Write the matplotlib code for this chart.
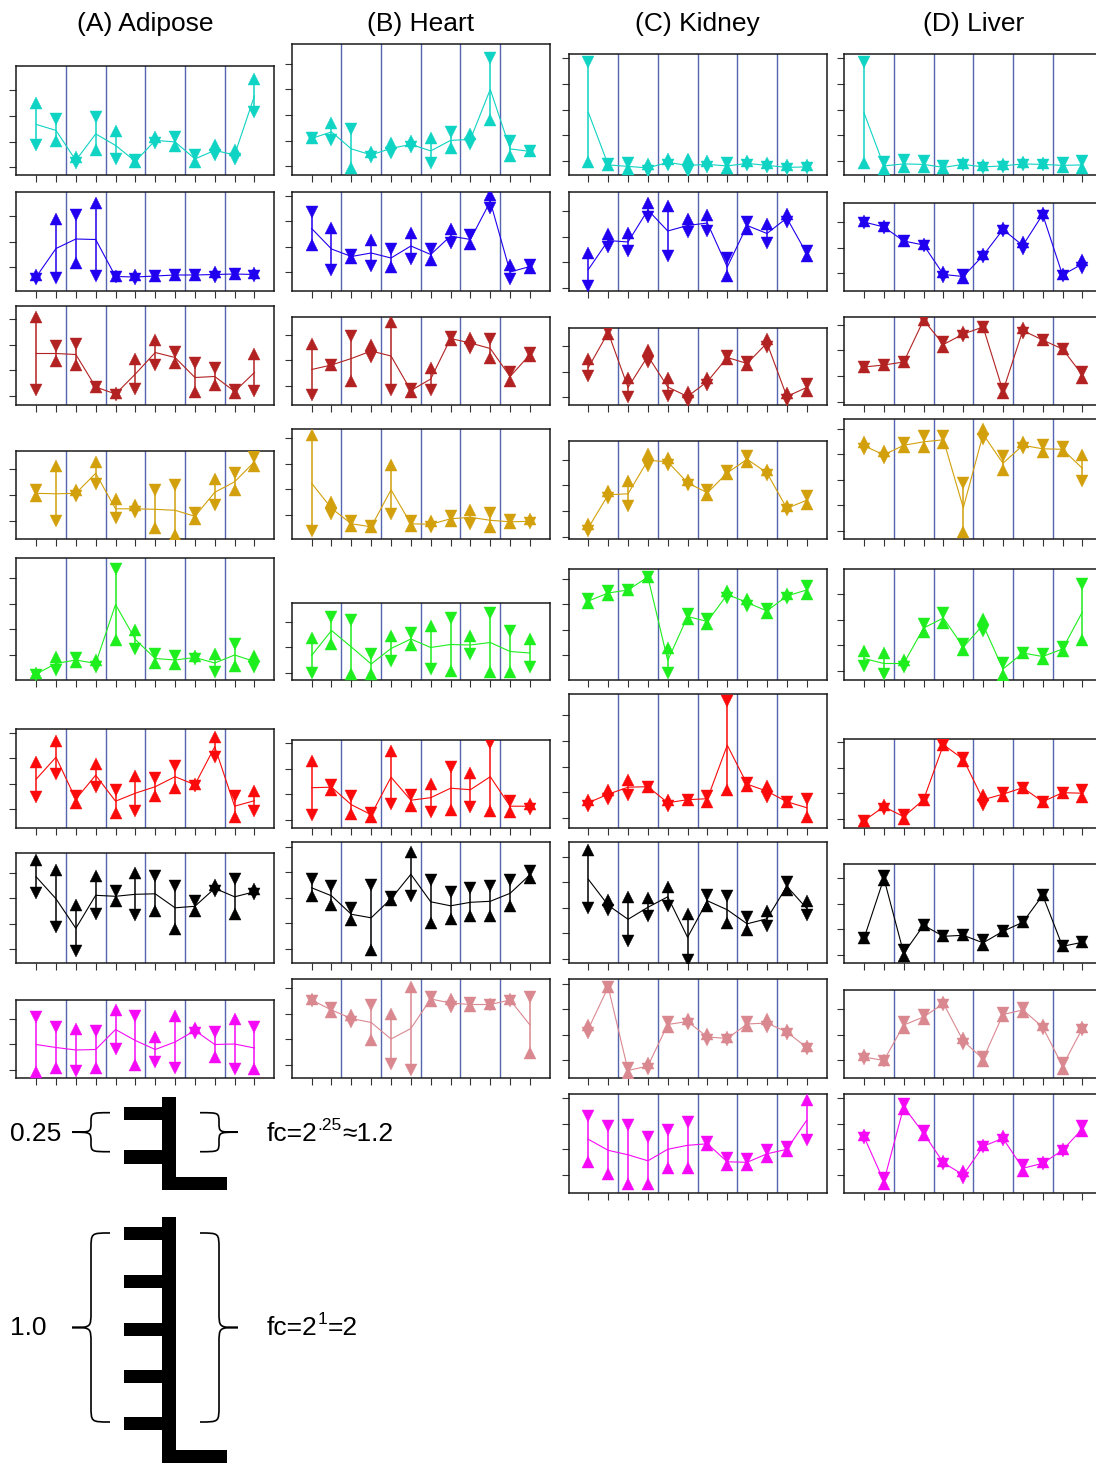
import numpy as np
import matplotlib
matplotlib.use("Agg")
import matplotlib.pyplot as plt
from matplotlib.path import Path
from matplotlib.patches import PathPatch, Rectangle

plt.rcParams['font.family'] = ['Liberation Sans', 'DejaVu Sans']

W, H = 1096, 1463
STEP = 25.6          # one quarter-log2 step on the y scale
PANEL_W = 258

TITLES = ['(A) Adipose', '(B) Heart', '(C) Kidney', '(D) Liver']
COL_LEFT = [16.3, 291.8, 568.5, 844.2]
ROW_BOTTOM = [175.4, 291, 405, 539.3, 680, 827.7, 963.3, 1078, 1193.3]

CYAN, BLUE, BRICK, GOLD = '#0fd3c3', '#2000ee', '#b22222', '#d2a00c'
GREEN, RED, BLACK = '#1eee1e', '#fa0a0a', '#000000'
PINK, MAGENTA = '#da8890', '#f50af5'
SEP = '#5565b0'

ADIPOSE_COLORS = [CYAN, BLUE, BRICK, GOLD, GREEN, RED, BLACK, MAGENTA]
HEART_COLORS = [CYAN, BLUE, BRICK, GOLD, GREEN, RED, BLACK, PINK]
KIDNEY_COLORS = [CYAN, BLUE, BRICK, GOLD, GREEN, RED, BLACK, PINK, MAGENTA]
LIVER_COLORS = [CYAN, BLUE, BRICK, GOLD, GREEN, RED, BLACK, PINK, MAGENTA]

# replicate 1 (drawn as ^) and replicate 2 (drawn as v), 12 time points each
ADIPOSE_UP = [
    [72, 34, 18, 25, 44, 13, 38, 29, 13, 30, 25, 96],
    [16, 72, 28, 88, 15, 16, 15, 16, 16, 19, 17, 18],
    [88, 44, 40, 18, 12, 46, 65, 42, 13, 20, 12, 51],
    [43, 73, 49, 77, 40, 34, 11, 4, 20, 60, 49, 73],
    [7, 23, 18, 20, 40, 50, 17, 16, 24, 26, 14, 24],
    [66, 87, 25, 64, 15, 52, 32, 40, 44, 91, 11, 37],
    [103, 93, 58, 87, 62, 90, 52, 34, 52, 78, 49, 74],
    [6, 10, 49, 10, 68, 13, 41, 62, 50, 21, 59, 9],
]
ADIPOSE_DN = [
    [30, 56, 12, 58, 16, 15, 32, 38, 20, 20, 16, 63],
    [12, 13, 76, 15, 14, 12, 15, 16, 16, 14, 17, 15],
    [15, 59, 61, 18, 10, 16, 40, 53, 42, 37, 15, 14],
    [49, 18, 43, 55, 21, 27, 49, 54, 26, 34, 66, 82],
    [5, 10, 22, 13, 111, 31, 26, 24, 21, 8, 36, 13],
    [31, 54, 32, 41, 38, 17, 50, 62, 42, 71, 32, 17],
    [70, 36, 12, 49, 72, 48, 87, 77, 62, 72, 84, 69],
    [61, 51, 7, 47, 29, 62, 16, 10, 45, 46, 9, 51],
]
ADIPOSE_YMAX = [109.3, 99.3, 99.3, 88.3, 122, 99, 110.7, 78.3]
ADIPOSE_TICK0 = [8.3, 23.7, 9, 18.7, 25, 18.3, 14, 8.3]

HEART_UP = [
    [37, 52, 7, 23, 32, 34, 37, 27, 41, 55, 19, 24],
    [46, 63, 33, 51, 24, 58, 31, 62, 47, 96, 26, 23],
    [61, 40, 24, 60, 83, 13, 37, 65, 67, 47, 24, 49],
    [104, 37, 13, 12, 74, 13, 18, 18, 29, 12, 16, 20],
    [42, 36, 6, 6, 44, 35, 54, 9, 44, 8, 8, 41],
    [67, 38, 14, 11, 77, 22, 44, 18, 55, 17, 16, 24],
    [67, 58, 43, 13, 63, 111, 40, 44, 47, 47, 57, 85],
    [79, 66, 63, 38, 64, 91, 77, 79, 72, 74, 79, 25],
]
HEART_DN = [
    [37, 35, 46, 18, 22, 28, 12, 43, 31, 117, 34, 24],
    [79, 21, 36, 25, 42, 32, 42, 48, 56, 83, 12, 26],
    [10, 40, 69, 48, 15, 16, 15, 68, 57, 66, 33, 52],
    [8, 25, 18, 13, 25, 18, 12, 23, 15, 26, 19, 16],
    [7, 63, 60, 26, 19, 47, 11, 62, 26, 67, 49, 13],
    [13, 43, 32, 15, 24, 33, 16, 61, 21, 85, 27, 19],
    [84, 77, 55, 78, 66, 67, 83, 71, 75, 77, 83, 92],
    [77, 70, 56, 73, 14, 8, 81, 71, 75, 73, 77, 81],
]
HEART_YMAX = [131.7, 99.3, 88.3, 110.3, 76.7, 87.3, 121.7, 98.7]
HEART_TICK0 = [9.3, 18.7, 19, 24.3, 7, 8, 14.3, 13.3]

KIDNEY_UP = [
    [13, 10, 6, 11, 16, 16, 14, 7, 14, 12, 10, 10],
    [38, 57, 58, 88, 85, 72, 76, 15, 62, 67, 77, 35],
    [46, 71, 27, 55, 27, 13, 27, 46, 40, 66, 12, 14],
    [15, 48, 58, 85, 81, 59, 44, 65, 77, 69, 33, 35],
    [77, 85, 90, 103, 32, 61, 56, 89, 81, 67, 86, 86],
    [28, 38, 48, 41, 28, 28, 26, 38, 42, 42, 26, 11],
    [113, 63, 66, 65, 76, 49, 57, 40, 33, 52, 73, 62],
    [53, 91, 5, 15, 51, 59, 44, 41, 52, 59, 48, 32],
    [31, 19, 9, 9, 25, 25, 48, 28, 28, 36, 42, 93],
]
KIDNEY_DN = [
    [113, 11, 12, 4, 10, 4, 8, 12, 10, 8, 6, 7],
    [5, 44, 40, 74, 35, 59, 60, 33, 69, 48, 69, 40],
    [29, 74, 8, 43, 9, 4, 20, 49, 43, 58, 5, 21],
    [8, 41, 33, 73, 74, 54, 49, 68, 83, 64, 29, 43],
    [81, 89, 90, 103, 7, 66, 61, 82, 74, 71, 82, 94],
    [22, 29, 33, 41, 22, 28, 32, 127, 45, 31, 26, 29],
    [55, 53, 22, 47, 57, 3, 68, 67, 46, 37, 81, 48],
    [45, 91, 10, 9, 56, 54, 38, 38, 56, 51, 44, 29],
    [77, 67, 68, 56, 63, 71, 51, 35, 34, 43, 46, 53],
]
KIDNEY_YMAX = [121.7, 99.3, 77.3, 98.3, 110.7, 133.3, 121.7, 98.7, 99]
KIDNEY_TICK0 = [14.7, 3.3, 7.7, 2.7, 24.7, 10, 4.3, 17.7, 18.3]

LIVER_UP = [
    [12, 6, 8, 8, 7, 12, 10, 11, 13, 12, 8, 7],
    [70, 65, 50, 47, 19, 13, 37, 63, 49, 78, 17, 31],
    [38, 40, 43, 85, 58, 73, 78, 12, 77, 65, 56, 27],
    [97, 88, 92, 92, 96, 7, 110, 69, 97, 87, 88, 84],
    [29, 27, 20, 48, 57, 30, 61, 5, 27, 21, 29, 40],
    [7, 23, 9, 28, 83, 67, 33, 32, 40, 26, 35, 31],
    [25, 83, 7, 38, 27, 28, 18, 32, 41, 68, 17, 21],
    [23, 18, 50, 59, 76, 40, 17, 62, 66, 53, 9, 51],
    [58, 9, 84, 58, 32, 22, 48, 57, 22, 31, 44, 62],
]
LIVER_DN = [
    [113, 13, 15, 14, 9, 10, 7, 8, 10, 10, 12, 14],
    [68, 63, 50, 45, 14, 16, 34, 60, 42, 75, 15, 23],
    [38, 40, 43, 85, 63, 69, 78, 16, 72, 65, 56, 33],
    [90, 81, 96, 103, 103, 56, 100, 83, 91, 94, 92, 58],
    [14, 6, 13, 56, 67, 36, 49, 17, 27, 26, 33, 96],
    [7, 19, 13, 28, 83, 70, 23, 35, 40, 26, 35, 38],
    [25, 87, 13, 38, 27, 28, 23, 32, 41, 68, 17, 21],
    [19, 17, 56, 63, 73, 34, 21, 65, 70, 49, 15, 48],
    [55, 15, 89, 62, 29, 15, 46, 53, 28, 29, 42, 67],
]
LIVER_YMAX = [121.4, 87.7, 88.3, 120.7, 110.7, 88.3, 99.3, 87.7, 99]
LIVER_TICK0 = [14.7, 17.7, 3.3, 8.3, 9, 9, 8.3, 17.7, 18.3]

COLUMNS = [
    (ADIPOSE_UP, ADIPOSE_DN, ADIPOSE_YMAX, ADIPOSE_TICK0, ADIPOSE_COLORS),
    (HEART_UP, HEART_DN, HEART_YMAX, HEART_TICK0, HEART_COLORS),
    (KIDNEY_UP, KIDNEY_DN, KIDNEY_YMAX, KIDNEY_TICK0, KIDNEY_COLORS),
    (LIVER_UP, LIVER_DN, LIVER_YMAX, LIVER_TICK0, LIVER_COLORS),
]

fig = plt.figure(figsize=(W / 100, H / 100), dpi=100)

# pixel-space layer for titles and the scale key
ov = fig.add_axes([0, 0, 1, 1])
ov.set_xlim(0, W)
ov.set_ylim(H, 0)
ov.axis('off')


def draw_panel(left, bottom, ymax, tick0, up, dn, color):
    ax = fig.add_axes([left / W, 1 - bottom / H, PANEL_W / W, ymax / H])
    x = np.arange(1, 13)
    up = np.asarray(up, float)
    dn = np.asarray(dn, float)
    for xs in np.arange(2.5, 11, 2):
        ax.axvline(xs, color=SEP, lw=1.0, zorder=1)
    ax.vlines(x, np.minimum(up, dn), np.maximum(up, dn), color=color, lw=1.1, zorder=2)
    ax.plot(x, (up + dn) / 2, color=color, lw=0.8, zorder=2)
    kw = dict(ls='none', ms=8.6, color=color, mec=color, mew=0.3, zorder=3)
    ax.plot(x, up, marker='^', **kw)
    ax.plot(x, dn, marker='v', **kw)
    ax.set_xlim(0, 13)
    ax.set_ylim(0, ymax)
    ax.set_xticks(x)
    ax.set_yticks(np.arange(tick0, ymax - 1, STEP))
    ax.tick_params(direction='out', length=5, width=0.8, color='#333333',
                   labelbottom=False, labelleft=False)
    for s in ax.spines.values():
        s.set_linewidth(1.1)
        s.set_color('#1a1a1a')


for c, (ups, dns, ymaxs, ticks0, colors) in enumerate(COLUMNS):
    ov.text(COL_LEFT[c] + PANEL_W / 2, 24, TITLES[c], fontsize=19,
            ha='center', va='center')
    for r in range(len(ups)):
        draw_panel(COL_LEFT[c], ROW_BOTTOM[r], ymaxs[r], ticks0[r],
                   ups[r], dns[r], colors[r])


def brace(x_end, x_tip, top, bottom):
    xc = (x_end + x_tip) / 2
    mid = (top + bottom) / 2
    r = min(16, (bottom - top) / 4)
    verts = [(x_end, top), (xc, top), (xc, top), (xc, top + r),
             (xc, mid - r),
             (xc, mid), (xc, mid), (x_tip, mid),
             (xc, mid), (xc, mid), (xc, mid + r),
             (xc, bottom - r),
             (xc, bottom), (xc, bottom), (x_end, bottom)]
    codes = [Path.MOVETO] + [Path.CURVE4] * 3 + [Path.LINETO] + \
        [Path.CURVE4] * 6 + [Path.LINETO] + [Path.CURVE4] * 3
    ov.add_patch(PathPatch(Path(verts, codes), fill=False, lw=1.2, color='black'))


def scale_bar(top, ticks, bottom):
    ov.add_patch(Rectangle((162.3, top), 13.7, bottom - top, color='black', lw=0))
    ov.add_patch(Rectangle((162.3, bottom - 12.7), 64.4, 12.7, color='black', lw=0))
    for ty in ticks:
        ov.add_patch(Rectangle((124, ty - 6.7), 40, 13.4, color='black', lw=0))


def run_text(x, y, pieces):
    # lay text pieces side by side; raised pieces act as superscripts
    rend = fig.canvas.get_renderer()
    for s, size, dy in pieces:
        t = ov.text(x, y + dy, s, fontsize=size, ha='left', va='center')
        x += t.get_window_extent(renderer=rend).width


scale_bar(1096.7, [1113.3, 1157], 1190)
brace(110, 72, 1112.7, 1151.7)
brace(200, 238, 1112.7, 1151.7)
ov.text(10, 1134, '0.25', fontsize=19, ha='left', va='center')
run_text(267, 1134, [('fc=2', 19, 0), ('.25', 12.5, -8), ('≈1.2', 19, 0)])

scale_bar(1216.7, [1233.3, 1281.7, 1329.3, 1376.7, 1423.3], 1462.7)
brace(110, 72, 1233, 1422)
brace(200, 238, 1233, 1422)
ov.text(10, 1328, '1.0', fontsize=19, ha='left', va='center')
run_text(267, 1328, [('fc=2', 19, 0), ('1', 12.5, -8), ('=2', 19, 0)])

fig.savefig('out.png', dpi=100)
